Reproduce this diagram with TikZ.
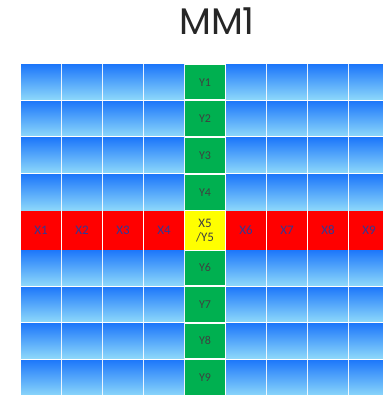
\documentclass[tikz,border=0pt]{standalone}
\usepackage{fontspec}
\setmainfont{Carlito}
\newfontfamily\titlefont{Poppins}
\begin{document}
\begin{tikzpicture}[x=1pt,y=-1pt,
  cellbase/.style={draw=none,inner sep=0pt,outer sep=0pt,anchor=north west,
    font=\fontsize{12}{12}\selectfont},
  bluecell/.style={cellbase,top color=bluetop,bottom color=bluebot},
  greencell/.style={cellbase,fill=cellgreen,text=labelgray},
  redcell/.style={cellbase,fill=cellred,text=labelblue,font=\fontsize{13}{13}\selectfont},
  yellowcell/.style={cellbase,fill=cellyellow,text=labelgray,align=center,
    font=\fontsize{13}{14}\selectfont},
  titlestyle/.style={font=\titlefont\fontsize{37}{40}\selectfont,text=black!85,inner sep=0pt}]
\definecolor{bluetop}{RGB}{30,120,250}
\definecolor{bluebot}{RGB}{140,215,250}
\definecolor{cellgreen}{RGB}{0,176,80}
\definecolor{cellred}{RGB}{255,0,0}
\definecolor{cellyellow}{RGB}{255,255,0}
\definecolor{labelgray}{RGB}{64,64,64}
\definecolor{labelblue}{RGB}{48,58,150}
\useasboundingbox[fill=white] (0,0) rectangle (382,395);
\node[titlestyle] (title) at (217,21) {MM1};
% row tops and heights
\foreach \r/\top/\h in {1/65/34.5,2/101.5/34.5,3/138/34.5,4/174.5/35.5,6/250.5/34.5,7/287/34.5,8/323.5/34.5,9/360/36}{
  \foreach \c in {1,...,9}{
    \pgfmathsetmacro{\xl}{21+(\c-1)*41}
    \ifnum\c=5
      \node[greencell,minimum width=40pt,minimum height=\h pt] (c\r-\c) at (\xl,\top) {Y\r};
    \else
      \node[bluecell,minimum width=40pt,minimum height=\h pt] (c\r-\c) at (\xl,\top) {};
    \fi
  }
}
\foreach \c in {1,...,9}{
  \pgfmathsetmacro{\xl}{21+(\c-1)*41}
  \ifnum\c=5
    \node[yellowcell,minimum width=40pt,minimum height=38.5pt] (c5-\c) at (\xl,211) {X5\\/Y5};
  \else
    \node[redcell,minimum width=40pt,minimum height=38.5pt] (c5-\c) at (\xl,211) {X\c};
  \fi
}
\end{tikzpicture}
\end{document}
